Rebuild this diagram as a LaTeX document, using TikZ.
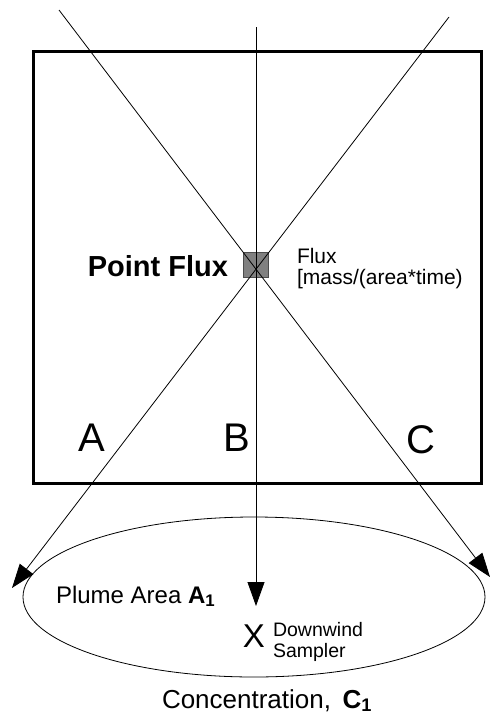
\documentclass[tikz,border=0pt]{standalone}
\usepackage{fontspec}
\setmainfont{Liberation Sans}
\usetikzlibrary{arrows.meta,shapes.geometric}
\newcommand{\fsz}[1]{\fontsize{#1}{#1}\selectfont}
\tikzset{
  thinline/.style={line width=0.8pt, draw=black},
  arrowline/.style={thinline, -{Triangle[length=24pt,width=17pt]}},
  lbl/.style={inner sep=0pt, outer sep=0pt},
}
\begin{document}
\begin{tikzpicture}[x=1pt,y=-1pt]
\useasboundingbox (0,0) rectangle (490,718);
% frame
\node[draw=black, line width=3pt, minimum width=448pt, minimum height=432pt, inner sep=0pt, anchor=north west] (frame) at (32,49.5) {};
% plume ellipse
\node[draw=black, line width=0.8pt, ellipse, minimum width=462pt, minimum height=160pt, inner sep=0pt] (plume) at (254,597) {};
% point source
\node[draw=black!70, fill=black!50, line width=0.8pt, minimum size=25pt, inner sep=0pt] (src) at (256,264.5) {};
% rays
\coordinate (ta) at (59,10);
\coordinate (tb) at (256,27);
\coordinate (tc) at (449,17);
\coordinate (ha) at (12,588);
\coordinate (hb) at (256,606);
\coordinate (hc) at (490,577);
\draw[arrowline] (ta) -- (hc);
\draw[arrowline] (tc) -- (ha);
\draw[arrowline] (tb) -- (hb);
% labels
\node[lbl, anchor=base east, font=\fsz{29}\bfseries] (pf) at (228,276) {Point Flux};
\node[lbl, anchor=base west, font=\fsz{21}] (fx1) at (297,263) {Flux};
\node[lbl, anchor=base west, font=\fsz{21}] (fx2) at (297,284) {[mass/(area*time)};
\node[lbl, anchor=base, font=\fsz{40}] (la) at (92,451) {A};
\node[lbl, anchor=base, font=\fsz{40}] (lb) at (237,451) {B};
\node[lbl, anchor=base, font=\fsz{40}] (lc) at (421,453) {C};
\node[lbl, anchor=base west, font=\fsz{24}] (pa) at (56,603) {Plume Area \textbf{A}\textsubscript{\textbf{1}}};
\node[lbl, anchor=base, font=\fsz{33}] (xs) at (254,647) {X};
\node[lbl, anchor=west, align=left, font=\fontsize{19.5}{21}\selectfont] (dw) at (273,642) {Downwind\\Sampler};
\node[lbl, anchor=base west, font=\fsz{26}] (cc) at (162,708) {Concentration,\, \textbf{C}\textsubscript{\textbf{1}}};
\end{tikzpicture}
\end{document}
